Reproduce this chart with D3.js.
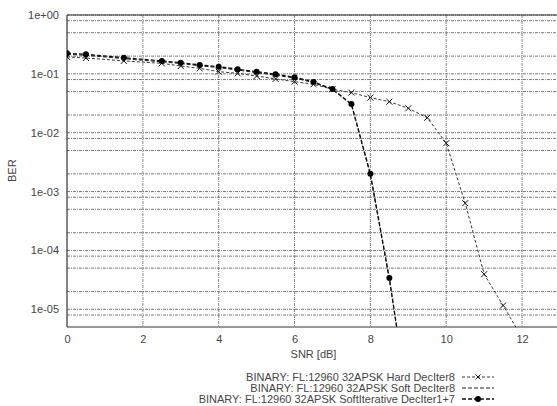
<!DOCTYPE html>
<html>
<head>
<meta charset="utf-8">
<script src="https://cdn.jsdelivr.net/npm/d3@7"></script>
<style>
  body { margin: 0; background: #fff; }
  text { font-family: "Liberation Sans", Arial, sans-serif; }
</style>
</head>
<body>
<div id="chart"></div>
<script>
// SNR points (dB)
const snrHard = [0, 0.5, 1.5, 2.5, 3, 3.5, 4, 4.5, 5, 5.5, 6, 6.5, 7, 7.5, 8, 8.5, 9, 9.5, 10, 10.5, 11, 11.5, 12];
const berHard = [0.194, 0.186, 0.166, 0.151, 0.136, 0.124, 0.109, 0.102, 0.092, 0.082, 0.0737, 0.0666, 0.0548,
                 0.048, 0.0395, 0.0337, 0.026, 0.018, 0.00664, 0.000635, 0.0000395, 0.0000116, 0.0000033];

const snrSoft = [0, 0.5, 1.5, 2.5, 3, 3.5, 4, 4.5, 5, 5.5, 6, 6.5, 7, 7.5, 8, 8.5, 9];
const berSoft = [0.215, 0.207, 0.181, 0.160, 0.150, 0.137, 0.128, 0.116, 0.105, 0.095, 0.085, 0.071, 0.054,
                 0.0300, 0.0019, 0.000032, 0.00000025];

const snrIter = [0, 0.5, 1.5, 2.5, 3, 3.5, 4, 4.5, 5, 5.5, 6, 6.5, 7, 7.5, 8, 8.5, 9];
const berIter = [0.224, 0.215, 0.188, 0.166, 0.155, 0.142, 0.132, 0.120, 0.109, 0.0984, 0.0875, 0.0728, 0.0554,
                 0.0308, 0.0020, 0.0000339, 0.00000025];

const xTicks = [0, 2, 4, 6, 8, 10, 12];
const yTicks = [1, 1e-1, 1e-2, 1e-3, 1e-4, 1e-5];
const yTickLabels = ["1e+00", "1e-01", "1e-02", "1e-03", "1e-04", "1e-05"];
const legendLabels = [
  "BINARY: FL:12960 32APSK Hard DecIter8",
  "BINARY: FL:12960 32APSK Soft DecIter8",
  "BINARY: FL:12960 32APSK SoftIterative DecIter1+7"
];

const svgWidth = 557, svgHeight = 406;
const margin = {left: 67, right: -3, top: 15, bottom: 79};
const chartWidth = svgWidth - margin.left - margin.right,
      chartHeight = svgHeight - margin.top - margin.bottom;

const svg = d3.select("#chart").append("svg")
    .attr("width", svgWidth)
    .attr("height", svgHeight);

const g = svg.append("g")
    .attr("transform", "translate(" + margin.left + "," + margin.top + ")");

const x = d3.scaleLinear().domain([0, 13]).range([0, chartWidth]);
const y = d3.scaleLog().domain([5e-6, 1]).range([chartHeight, 0]);

g.append("clipPath").attr("id", "clip")
  .append("rect").attr("x", 0).attr("y", 0).attr("width", chartWidth).attr("height", chartHeight);

// grid: 1, 0.8, 0.5, 0.2 per decade
const gridY = [];
[0, -1, -2, -3, -4, -5].forEach(function(k) {
  [1, 0.8, 0.5, 0.2].forEach(function(m) {
    const v = m * Math.pow(10, k);
    if (v > 5.01e-6) gridY.push(v);
  });
});

g.append("g").selectAll("line").data(gridY).enter().append("line")
    .attr("x1", 0).attr("x2", chartWidth)
    .attr("y1", d => y(d)).attr("y2", d => y(d))
    .attr("stroke", "#555").attr("stroke-width", 0.8)
    .attr("stroke-dasharray", "3,1,1,1");

g.append("g").selectAll("line").data(xTicks.slice(1)).enter().append("line")
    .attr("x1", d => x(d)).attr("x2", d => x(d))
    .attr("y1", 0).attr("y2", chartHeight)
    .attr("stroke", "#666").attr("stroke-width", 0.8)
    .attr("stroke-dasharray", "3,1,1,1");

// axes
g.append("g")
    .attr("transform", "translate(0," + chartHeight + ")")
    .call(d3.axisBottom(x).tickValues(xTicks).tickSize(0).tickPadding(8))
    .call(a => a.select(".domain").remove())
    .selectAll("text").attr("font-size", "11px").attr("fill", "#444");

g.append("g")
    .call(d3.axisLeft(y).tickValues(yTicks).tickSize(0).tickPadding(8)
        .tickFormat((d, i) => yTickLabels[i]))
    .call(a => a.select(".domain").remove())
    .selectAll("text").attr("font-size", "11px").attr("fill", "#444");

g.append("line").attr("x1", 0).attr("x2", 0).attr("y1", 0).attr("y2", chartHeight)
    .attr("stroke", "#333").attr("stroke-width", 1.2);
g.append("line").attr("x1", 0).attr("x2", chartWidth).attr("y1", chartHeight).attr("y2", chartHeight)
    .attr("stroke", "#333").attr("stroke-width", 1.2);
g.append("line").attr("x1", 0).attr("x2", chartWidth).attr("y1", 0).attr("y2", 0)
    .attr("stroke", "#333").attr("stroke-width", 1);

// axis labels
g.append("text")
    .attr("x", x(6.5)).attr("y", chartHeight + 31)
    .attr("font-size", "11px").attr("text-anchor", "middle").attr("fill", "#444")
    .text("SNR [dB]");

g.append("text")
    .attr("transform", "rotate(-90)")
    .attr("x", -(y(1e-2) + 38)).attr("y", -51)
    .attr("font-size", "11px").attr("text-anchor", "middle").attr("fill", "#444")
    .text("BER");

// series
const line = d3.line().x(d => x(d[0])).y(d => y(d[1]));
const plot = g.append("g").attr("clip-path", "url(#clip)");

const hardData = d3.zip(snrHard, berHard);
const softData = d3.zip(snrSoft, berSoft);
const iterData = d3.zip(snrIter, berIter);

plot.append("path").datum(softData).attr("d", line)
    .attr("fill", "none").attr("stroke", "#222").attr("stroke-width", 1)
    .attr("stroke-dasharray", "4,2");

plot.append("path").datum(hardData).attr("d", line)
    .attr("fill", "none").attr("stroke", "#222").attr("stroke-width", 0.9)
    .attr("stroke-dasharray", "3,2");

plot.append("path").datum(iterData).attr("d", line)
    .attr("fill", "none").attr("stroke", "#111").attr("stroke-width", 1.3)
    .attr("stroke-dasharray", "4,2");

function cross(sel, s) {
  sel.append("path")
     .attr("d", "M" + (-s) + "," + (-s) + "L" + s + "," + s + "M" + (-s) + "," + s + "L" + s + "," + (-s))
     .attr("stroke", "#111").attr("stroke-width", 1).attr("fill", "none");
}

plot.selectAll(".hard").data(hardData).enter().append("g")
    .attr("class", "hard")
    .attr("transform", d => "translate(" + x(d[0]) + "," + y(d[1]) + ")")
    .call(cross, 3);

plot.selectAll(".iter").data(iterData).enter().append("circle")
    .attr("class", "iter")
    .attr("cx", d => x(d[0])).attr("cy", d => y(d[1]))
    .attr("r", 3).attr("fill", "#000");

// legend
const legend = svg.append("g");
const ly = [377, 388, 399];
legendLabels.forEach(function(t, i) {
  legend.append("text")
      .attr("x", 455).attr("y", ly[i] + 4)
      .attr("text-anchor", "end").attr("font-size", "11px").attr("fill", "#444")
      .text(t);
});
legend.append("line").attr("x1", 462).attr("x2", 494).attr("y1", ly[0]).attr("y2", ly[0])
    .attr("stroke", "#222").attr("stroke-width", 0.9).attr("stroke-dasharray", "3,2");
legend.append("g").attr("transform", "translate(478," + ly[0] + ")").call(cross, 2.5);
legend.append("line").attr("x1", 462).attr("x2", 494).attr("y1", ly[1]).attr("y2", ly[1])
    .attr("stroke", "#222").attr("stroke-width", 1).attr("stroke-dasharray", "4,2");
legend.append("line").attr("x1", 462).attr("x2", 494).attr("y1", ly[2]).attr("y2", ly[2])
    .attr("stroke", "#111").attr("stroke-width", 1.3).attr("stroke-dasharray", "4,2");
legend.append("circle").attr("cx", 478).attr("cy", ly[2]).attr("r", 3).attr("fill", "#000");
</script>
</body>
</html>
